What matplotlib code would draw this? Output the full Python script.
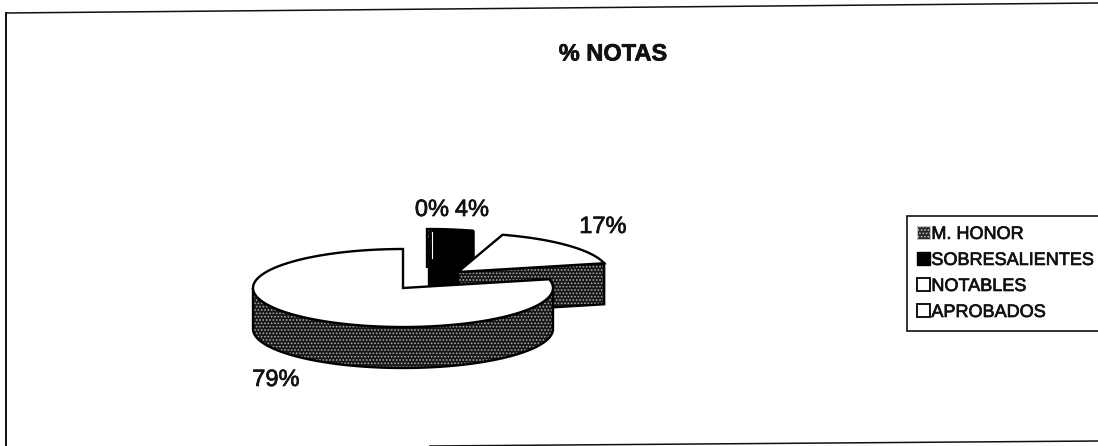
import numpy as np
import matplotlib
matplotlib.use("Agg")
import matplotlib.pyplot as plt
import matplotlib.patheffects as pe
from matplotlib.patches import Polygon, Patch

plt.rcParams['font.family'] = ['Liberation Sans', 'DejaVu Sans']
plt.rcParams['hatch.linewidth'] = 0.8

title = "% NOTAS"
categories = ["M. HONOR", "SOBRESALIENTES", "NOTABLES", "APROBADOS"]
values = [0.4, 4.4, 16.6, 78.6]
label_texts = ["0%", "4%", "17%", "79%"]

RX, RY, DEPTH = 150, 39, 41
centers = [(427, 268), (429, 268), (458, 272), (403, 288)]
label_pos = [(432, 210), (472, 210), (603, 227), (276, 380)]

fig = plt.figure(figsize=(10.98, 4.46), dpi=100, facecolor='white')
ax = fig.add_axes([0, 0, 1, 1])
ax.set_xlim(0, 1098)
ax.set_ylim(446, 0)
ax.axis('off')

# slice angles from the values, clockwise from 12 o'clock
total = sum(values)
ends = 90 - np.cumsum(values) / total * 360
starts = np.r_[90, ends[:-1]]
thick = [pe.withStroke(linewidth=0.5, foreground='#111111')]


def rim(c, a0, a1, n=160):
    t = np.radians(np.linspace(a0, a1, n))
    return np.c_[c[0] + RX * np.cos(t), c[1] - RY * np.sin(t)]


def stipple(pts, z):
    ax.add_patch(Polygon(pts, closed=True, facecolor='#161616', edgecolor='#a8a8a8',
                         hatch='.....', lw=0, zorder=z))
    ax.add_patch(Polygon(pts, closed=True, facecolor='none', edgecolor='black', lw=1.7, zorder=z + 0.1))


def solid(pts, color, z, lw=1.7):
    ax.add_patch(Polygon(pts, closed=True, facecolor=color, edgecolor='black', lw=lw, zorder=z))


def wall_from(a, c):
    p = rim(c, a, a, 1)[0]
    return np.array([c, p, p + [0, DEPTH], np.array(c) + [0, DEPTH]])


# back slices
c = centers[1]
solid(wall_from(ends[1], c), 'black', 3)
solid(np.vstack([[c], rim(c, ends[1], starts[1], 40)]), 'black', 3.2)
c = centers[0]
stipple(np.vstack([[c], rim(c, ends[0], starts[0], 10)]), 3.4)
ax.plot([c[0] + 5, c[0] + 5], [c[1] - 36, c[1] - 10], color='white', lw=0.8, zorder=3.6)

# NOTABLES
c = centers[2]
stipple(wall_from(ends[2], c), 4)
solid(np.vstack([[c], rim(c, ends[2], starts[2], 60)]), 'white', 4.5)

# APROBADOS (runs counter-clockwise from 12 o'clock round to the end of NOTABLES)
c = centers[3]
front = rim(c, 180, 360)
stipple(np.vstack([front, (front + [0, DEPTH])[::-1]]), 5)
solid(np.vstack([[c], rim(c, starts[0], starts[3] + 360)]), 'white', 6)

for txt, (x, y) in zip(label_texts, label_pos):
    ax.text(x, y, txt, ha='center', va='center', fontsize=17, color='#111111', zorder=8, path_effects=thick)

ax.text(613, 54, title, ha='center', va='center', fontsize=17, fontweight='bold', color='#111111',
        path_effects=thick)

# chart border
ax.plot([6, 1098], [13, 3], color='#111111', lw=1.1)
ax.plot([6, 6], [13, 446], color='#111111', lw=1.4)
ax.plot([430, 1098], [446, 441], color='#111111', lw=1.1)

handles = [
    Patch(facecolor='#242424', edgecolor='#c4c4c4', hatch='.....', lw=0.8),
    Patch(facecolor='black', edgecolor='black', lw=1),
    Patch(facecolor='white', edgecolor='black', lw=1.3),
    Patch(facecolor='white', edgecolor='black', lw=1.3),
]
leg = ax.legend(handles, categories, loc='upper left', bbox_to_anchor=(907, 216),
                bbox_transform=ax.transData, fontsize=13, frameon=True, fancybox=False,
                edgecolor='#111111', framealpha=1, borderaxespad=0, borderpad=0.55,
                labelspacing=0.5, handlelength=0.75, handleheight=0.75, handletextpad=0.05)
leg.get_frame().set_linewidth(1.2)
for t in leg.get_texts():
    t.set_color('#111111')
    t.set_path_effects(thick)

fig.savefig('out.png', dpi=100, facecolor='white')
